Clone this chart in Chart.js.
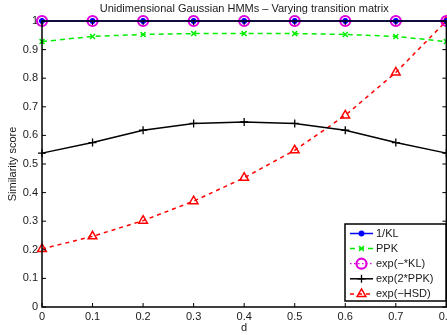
<!DOCTYPE html>
<html>
<head>
<meta charset="utf-8">
<script src="https://cdn.jsdelivr.net/npm/chart.js@4/dist/chart.umd.min.js"></script>
<style>
  html, body { margin: 0; padding: 0; background: #fff; overflow: hidden; }
  /* the original figure is cropped on the right, through the last x label */
  #wrap { position: relative; width: 447px; height: 335px; overflow: hidden; }
</style>
</head>
<body>
<div id="wrap"><canvas id="c" width="457" height="335"></canvas></div>
<script>
// x values (d)
const dValues = [0, 0.1, 0.2, 0.3, 0.4, 0.5, 0.6, 0.7, 0.8];
// similarity scores
const invKL   = [1, 1, 1, 1, 1, 1, 1, 1, 1];
const ppk     = [0.928, 0.946, 0.953, 0.956, 0.956, 0.956, 0.953, 0.946, 0.928];
const expKL   = [1, 1, 1, 1, 1, 1, 1, 1, 1];
const exp2PPK = [0.538, 0.575, 0.618, 0.642, 0.647, 0.642, 0.618, 0.575, 0.538];
const expHSD  = [0.203, 0.247, 0.302, 0.370, 0.452, 0.548, 0.670, 0.820, 1.0];

const xTicks = [0, 0.1, 0.2, 0.3, 0.4, 0.5, 0.6, 0.7, 0.8];
const yTicks = [0, 0.1, 0.2, 0.3, 0.4, 0.5, 0.6, 0.7, 0.8, 0.9, 1];

const FONT = 'Liberation Sans, Arial, Helvetica, sans-serif';
const TXT = '#1a1a1a';

function pts(vals) { return dValues.map((d, i) => ({ x: d, y: vals[i] })); }

const datasets = [
  { label: '1/KL', data: pts(invKL), borderColor: '#0000ff', backgroundColor: '#0000ff',
    borderWidth: 1.5, pointStyle: 'star', pointRadius: 3, pointBorderWidth: 2, borderDash: [] },
  { label: 'PPK', data: pts(ppk), borderColor: '#00ee00', backgroundColor: '#00ee00',
    borderWidth: 1.5, pointStyle: 'crossRot', pointRadius: 3.5, pointBorderWidth: 1.5, borderDash: [5, 4] },
  { label: 'exp(\u2212*KL)', data: pts(expKL), borderColor: '#dd00dd', backgroundColor: 'rgba(0,0,0,0)',
    borderWidth: 1.2, pointStyle: 'circle', pointRadius: 5, pointBorderWidth: 2.2, borderDash: [1.5, 2.5] },
  { label: 'exp(2*PPK)', data: pts(exp2PPK), borderColor: '#000000', backgroundColor: '#000000',
    borderWidth: 1.5, pointStyle: 'cross', pointRadius: 4, pointBorderWidth: 1.3, borderDash: [] },
  { label: 'exp(\u2212HSD)', data: pts(expHSD), borderColor: '#ff0000', backgroundColor: 'rgba(0,0,0,0)',
    borderWidth: 1.5, pointStyle: 'triangle', pointRadius: 5, pointBorderWidth: 1.5, borderDash: [4, 4] }
].map(ds => Object.assign(ds, { fill: false, tension: 0, clip: false, pointBackgroundColor: ds.backgroundColor,
  pointBorderColor: ds.borderColor, pointHoverRadius: ds.pointRadius }));

// box, inside ticks, title and legend (MATLAB look)
const matlabDecor = {
  id: 'matlabDecor',
  afterDraw(chart) {
    const { ctx, chartArea: a, scales } = chart;
    ctx.save();
    ctx.strokeStyle = '#000';
    ctx.lineWidth = 1.5;
    ctx.setLineDash([]);
    ctx.strokeRect(a.left, a.top, a.right - a.left, a.bottom - a.top);
    ctx.lineWidth = 1;
    ctx.beginPath();
    xTicks.forEach(v => {
      const x = scales.x.getPixelForValue(v);
      ctx.moveTo(x, a.bottom); ctx.lineTo(x, a.bottom - 4);
      ctx.moveTo(x, a.top); ctx.lineTo(x, a.top + 4);
    });
    yTicks.forEach(v => {
      const y = scales.y.getPixelForValue(v);
      ctx.moveTo(a.left, y); ctx.lineTo(a.left + 4, y);
      ctx.moveTo(a.right, y); ctx.lineTo(a.right - 4, y);
    });
    ctx.stroke();

    // title centred on the axes
    ctx.fillStyle = TXT;
    ctx.font = '11px ' + FONT;
    ctx.textAlign = 'center';
    ctx.textBaseline = 'middle';
    ctx.fillText('Unidimensional Gaussian HMMs \u2013 Varying transition matrix', (a.left + a.right) / 2, 9);

    // legend, south-east inside
    const lx = 345, ly = 224, lw = 101, lh = 77, rowH = 15.1;
    ctx.fillStyle = '#fff';
    ctx.fillRect(lx, ly, lw, lh);
    ctx.lineWidth = 1.5;
    ctx.strokeStyle = '#000';
    ctx.strokeRect(lx, ly, lw, lh);
    chart.data.datasets.forEach((ds, i) => {
      const y = ly + 9.5 + i * rowH;
      ctx.strokeStyle = ds.borderColor;
      ctx.lineWidth = ds.borderWidth;
      ctx.setLineDash(ds.borderDash || []);
      ctx.beginPath(); ctx.moveTo(350, y); ctx.lineTo(373, y); ctx.stroke();
      ctx.setLineDash([]);
      ctx.fillStyle = ds.pointBackgroundColor;
      ctx.lineWidth = ds.pointBorderWidth;
      Chart.helpers.drawPoint(ctx, { pointStyle: ds.pointStyle, radius: ds.pointRadius, borderWidth: ds.pointBorderWidth, rotation: 0 }, 361.5, y);
      ctx.fillStyle = TXT;
      ctx.font = '11px ' + FONT;
      ctx.textAlign = 'left';
      ctx.textBaseline = 'middle';
      ctx.fillText(ds.label, 376, y + 0.5);
    });
    ctx.restore();
  }
};

new Chart(document.getElementById('c'), {
  type: 'line',
  data: { datasets },
  options: {
    responsive: false,
    animation: false,
    devicePixelRatio: 1,
    layout: { padding: { top: 21, left: 0, right: 0, bottom: 0 } },
    plugins: { legend: { display: false }, title: { display: false }, tooltip: { enabled: false } },
    scales: {
      x: {
        type: 'linear', min: 0, max: 0.8,
        grid: { display: false, drawTicks: false }, border: { display: false },
        afterBuildTicks: s => { s.ticks = xTicks.map(v => ({ value: v })); },
        ticks: { padding: 3, maxRotation: 0, color: TXT, font: { family: FONT, size: 11 },
          callback: v => String(+v.toFixed(1)) },
        title: { display: true, text: 'd', color: TXT, font: { family: FONT, size: 11 }, padding: 0 },
        afterFit: s => { s.height = 28; }
      },
      y: {
        min: 0, max: 1,
        grid: { display: false, drawTicks: false }, border: { display: false },
        afterBuildTicks: s => { s.ticks = yTicks.map(v => ({ value: v })); },
        ticks: { padding: 4, color: TXT, font: { family: FONT, size: 11 },
          callback: v => String(+v.toFixed(1)) },
        title: { display: true, text: 'Similarity score', color: TXT, font: { family: FONT, size: 11 }, padding: { top: 6, bottom: 0 } },
        afterFit: s => { s.width = 42; s.paddingTop = 0; s.paddingBottom = 0; }
      }
    }
  },
  plugins: [matlabDecor]
});
</script>
</body>
</html>
